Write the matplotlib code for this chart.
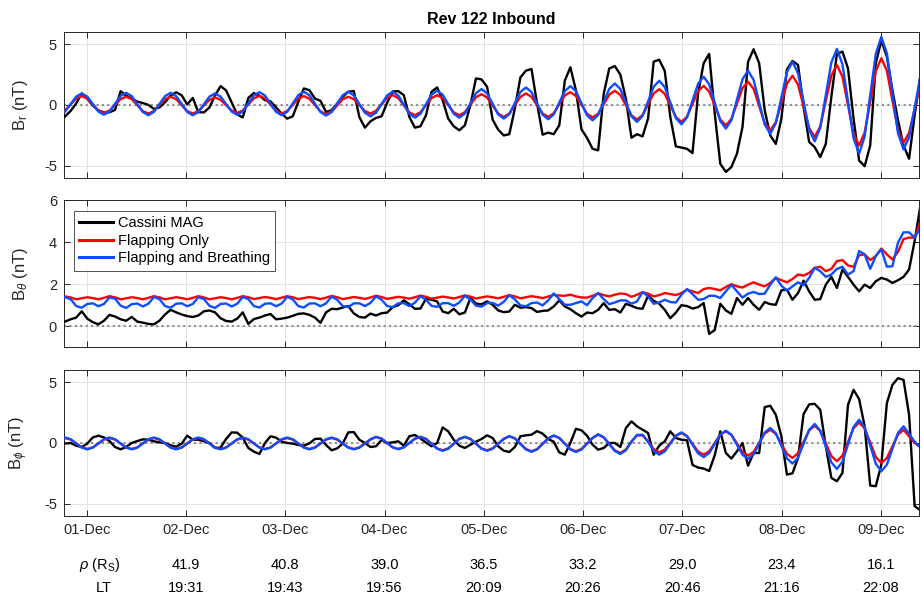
import numpy as np
import matplotlib
matplotlib.use('Agg')
import matplotlib.pyplot as plt
from matplotlib.transforms import blended_transform_factory

plt.rcParams['font.family'] = ['Liberation Sans', 'DejaVu Sans']
plt.rcParams['mathtext.fontset'] = 'custom'
plt.rcParams['mathtext.rm'] = 'Liberation Sans'
plt.rcParams['mathtext.it'] = 'Liberation Sans:italic'
plt.rcParams['mathtext.bf'] = 'Liberation Sans:bold'
plt.rcParams['axes.unicode_minus'] = False

# ---------------- data ----------------
# sample times (hours after 01-Dec 00:00), regular sampling
hours = -5.23 + 1.3425 * np.arange(155)

br_mag = [-0.94, -0.49, 0.13, 0.94, 0.52, -0.05, -0.44, -0.61, -0.60, -0.40,
          1.13, 0.77, 0.52, 0.28, 0.16, 0.01, -0.32, -0.20, 0.23, 0.77,
          1.05, 0.80, 0.04, 0.58, -0.59, -0.61, -0.20, 0.78, 1.55, 1.20,
          0.21, -0.78, -1.02, 0.58, 0.98, 0.76, 0.40, 0.30, -0.20, -0.70,
          -1.12, -0.93, 0.26, 1.36, 1.22, 0.53, 0.34, -0.57, -0.43, 0.12,
          0.67, 1.09, 1.15, -1.00,
          -1.86, -1.34, -1.06, -0.93, 0.18, 1.11, 1.14, 0.81, -0.98, -1.86,
          -1.75, -0.84, 1.09, 1.44, 0.40, -1.12, -1.75, -2.08, -1.67, 0.00,
          2.19, 2.10, 1.50, -1.20, -2.03, -2.50, -2.40, -0.30, 2.27, 2.82,
          2.96, 0.12, -2.44, -2.27, -2.40, -1.67, 2.00, 3.10, 1.20, -2.00,
          -2.70, -3.60, -3.73, 0.90, 3.00, 3.20, 2.50, 0.50, -2.69, -2.40,
          -2.58, -1.10,
          3.56, 3.72, 2.80, -1.00, -3.40, -3.50, -3.60, -3.95, 0.95, 3.43,
          4.20, -0.70, -4.83, -5.50, -5.10, -4.00, -1.80, 3.56, 4.58, 3.43,
          -0.43, -2.50, -3.20, -1.12, 2.93, 3.62, 3.29, -0.15, -3.04, -3.46,
          -4.28, -3.20, 0.67, 4.20, 4.39, 3.00, -1.12, -4.56, -5.03, -3.32,
          3.43, 5.30, 3.98, 1.22, -1.26, -3.32, -4.42, -0.84, 2.33]

br_flap = [-0.45, 0.04, 0.53, 0.73, 0.53, 0.04, -0.45, -0.65,
           -0.46, 0.02, 0.49, 0.68, 0.48, -0.01, -0.50, -0.70,
           -0.50, -0.01, 0.48, 0.68, 0.48, -0.01, -0.50, -0.70,
           -0.51, -0.04, 0.43, 0.62, 0.43, -0.02, -0.46, -0.65,
           -0.45, 0.05, 0.55, 0.75, 0.54, 0.03, -0.49, -0.70,
           -0.49, 0.02, 0.52, 0.73, 0.51, -0.01, -0.53, -0.75,
           -0.54, -0.04, 0.47, 0.68, 0.48, -0.01, -0.50, -0.70,
           -0.48, 0.06, 0.59, 0.81, 0.57, -0.02, -0.60, -0.84,
           -0.60, -0.02, 0.57, 0.81, 0.57, -0.02, -0.60, -0.84,
           -0.59, 0.03, 0.64, 0.89, 0.62, -0.05, -0.71, -0.98,
           -0.70, -0.02, 0.67, 0.95, 0.67, -0.02, -0.70, -0.98,
           -0.68, 0.06, 0.79, 1.05, 0.75, 0.03, -0.73, -1.02,
           -0.72, 0.07, 0.85, 1.17, 0.82, -0.02, -0.85, -1.20,
           -0.83, 0.06, 0.94, 1.30, 0.91, -0.04, -0.99, -1.39,
           -0.96, 0.10, 1.15, 1.57, 1.10, -0.05, -1.19, -1.67,
           -1.15, 0.12, 1.39, 1.91, 1.33, -0.09, -1.50, -2.08,
           -1.42, 0.17, 1.75, 2.41, 1.67, -0.11, -1.89, -2.63,
           -1.76, 0.33, 2.42, 3.29, 2.32, -0.02, -2.35, -3.32,
           -2.27, 0.26, 2.79, 3.84, 2.82, 0.37, -2.08, -3.10,
           -2.29, -0.35, 1.60]

br_flap_breath = [-0.54, 0.08, 0.69, 0.95, 0.69, 0.08, -0.54, -0.80,
                  -0.54, 0.10, 0.74, 1.00, 0.73, 0.08, -0.57, -0.84,
                  -0.57, 0.08, 0.73, 1.00, 0.73, 0.08, -0.57, -0.84,
                  -0.58, 0.06, 0.69, 0.95, 0.69, 0.08, -0.54, -0.80,
                  -0.53, 0.13, 0.79, 1.06, 0.78, 0.11, -0.56, -0.84,
                  -0.56, 0.13, 0.81, 1.09, 0.80, 0.11, -0.58, -0.87,
                  -0.58, 0.11, 0.80, 1.09, 0.79, 0.08, -0.63, -0.93,
                  -0.63, 0.08, 0.79, 1.09, 0.78, 0.03, -0.73, -1.04,
                  -0.72, 0.07, 0.85, 1.17, 0.85, 0.07, -0.72, -1.04,
                  -0.70, 0.14, 0.97, 1.31, 0.95, 0.10, -0.76, -1.12,
                  -0.75, 0.16, 1.07, 1.44, 1.06, 0.14, -0.79, -1.17,
                  -0.77, 0.19, 1.15, 1.55, 1.14, 0.15, -0.85, -1.26,
                  -0.82, 0.26, 1.33, 1.77, 1.31, 0.19, -0.93, -1.39,
                  -0.90, 0.30, 1.50, 1.99, 1.47, 0.20, -1.07, -1.59,
                  -1.02, 0.37, 1.75, 2.32, 1.70, 0.19, -1.32, -1.94,
                  -1.24, 0.44, 2.12, 2.82, 2.06, 0.23, -1.60, -2.36,
                  -1.49, 0.60, 2.69, 3.56, 2.60, 0.29, -2.03, -2.99,
                  -1.88, 0.81, 3.50, 4.61, 3.35, 0.31, -2.74, -4.00,
                  -2.59, 0.80, 4.19, 5.60, 4.25, 0.98, -2.30, -3.65,
                  -2.65, -0.23, 2.20]

bth_mag = [0.21, 0.32, 0.40, 0.70, 0.35, 0.18, 0.08, 0.25, 0.53, 0.45,
           0.32, 0.25, 0.43, 0.21, 0.16, 0.10, 0.08, 0.25, 0.55, 0.77,
           0.65, 0.55, 0.47, 0.43, 0.50, 0.70, 0.74, 0.65, 0.37, 0.24,
           0.21, 0.35, 0.65, 0.10, 0.33, 0.40,
           0.50, 0.57, 0.32, 0.35, 0.40, 0.48, 0.58, 0.60, 0.53, 0.40,
           0.15, 0.65, 0.82, 0.80, 0.88, 0.95, 0.60, 0.43,
           0.40, 0.59, 0.50, 0.61, 0.64, 0.90, 0.99, 1.22, 1.04, 0.82,
           0.83, 1.30, 1.25, 1.17, 0.69, 0.61, 0.82, 0.56, 0.64, 1.33,
           1.07, 1.03, 1.17, 1.01, 0.74, 0.66, 0.69, 1.01, 0.87, 0.90,
           0.85, 0.67, 0.72, 0.74, 0.93, 1.22,
           0.93, 0.80, 0.61, 0.45, 0.64, 0.61, 0.77, 1.09, 0.77, 0.80,
           0.64, 1.06, 0.96, 0.85,
           0.82, 1.45, 1.20, 1.06, 0.77, 0.37, 0.64, 0.99, 0.95, 0.83,
           0.90, 1.09, -0.38, -0.19, 1.06, 0.74, 0.58, 1.33, 1.01, 1.33,
           1.01, 0.77, 1.14, 1.04, 1.01, 1.70, 1.73, 1.25, 1.57, 2.16,
           1.65, 1.25, 1.28, 1.97, 2.34, 1.81, 2.69, 2.34, 1.97, 1.65,
           1.97, 1.81, 2.13, 2.29, 2.21, 2.05, 2.18, 2.34, 2.69, 4.05,
           5.66]

bth_flap = [1.41, 1.36, 1.27, 1.32, 1.37, 1.33, 1.27, 1.34,
            1.42, 1.36, 1.27, 1.32, 1.37, 1.33, 1.27, 1.34,
            1.42, 1.36, 1.27, 1.32, 1.37, 1.33, 1.27, 1.34,
            1.42, 1.36, 1.27, 1.32, 1.37, 1.33, 1.27, 1.34,
            1.42, 1.37, 1.28, 1.33, 1.38, 1.34, 1.28, 1.35,
            1.42, 1.37, 1.28, 1.33, 1.38, 1.34, 1.28, 1.35,
            1.43, 1.37, 1.28, 1.33, 1.38, 1.34, 1.29, 1.36,
            1.44, 1.38, 1.29, 1.34, 1.39, 1.35, 1.30, 1.37,
            1.45, 1.39, 1.30, 1.35, 1.40, 1.36, 1.31, 1.38,
            1.46, 1.40, 1.31, 1.36, 1.41, 1.37, 1.32, 1.39,
            1.47, 1.41, 1.32, 1.37, 1.42, 1.38, 1.33, 1.40,
            1.48, 1.45,
            1.44, 1.49, 1.41, 1.36, 1.35, 1.44, 1.55, 1.47, 1.41, 1.49,
            1.55, 1.52, 1.39, 1.49, 1.61,
            1.54, 1.41, 1.47, 1.57, 1.52, 1.47, 1.57, 1.73, 1.65, 1.57,
            1.76, 1.81, 1.76, 1.70, 1.86, 1.99, 1.89, 1.83, 1.97, 2.08,
            1.97, 1.89, 2.05, 2.29, 2.18, 2.08, 2.24, 2.45, 2.40, 2.53,
            2.77, 2.82, 2.61, 2.72, 3.09, 3.14, 2.88, 2.82, 3.37, 3.41,
            3.14, 3.33, 3.69, 3.41, 3.17, 3.53, 4.14, 4.21, 4.21, 4.95]

bth_flap_breath = [1.37, 1.28, 0.95, 0.87, 1.05, 1.08, 0.94, 1.05,
                   1.36, 1.30, 0.97, 0.86, 1.04, 1.07, 0.93, 1.06,
                   1.38, 1.28, 0.95, 0.87, 1.06, 1.08, 0.94, 1.05,
                   1.37, 1.29, 0.96, 0.86, 1.05, 1.07, 0.93, 1.06,
                   1.38, 1.28, 0.95, 0.88, 1.06, 1.08, 0.94, 1.07,
                   1.39, 1.27, 0.95, 0.88, 1.07, 1.08, 0.94, 1.08,
                   1.40, 1.25, 0.95, 0.90, 1.08, 1.08, 0.95, 1.10,
                   1.41, 1.25, 0.95, 0.90, 1.08, 1.09, 0.95, 1.11,
                   1.42, 1.25, 0.96, 0.91, 1.09, 1.09, 0.96, 1.12,
                   1.44, 1.26, 0.97, 0.92, 1.09, 1.10, 0.97, 1.15,
                   1.47, 1.27, 0.98, 0.94, 1.09, 1.12, 0.98, 1.22,
                   1.55, 1.28, 1.01, 1.01, 1.09, 1.17, 0.99, 1.33,
                   1.57, 1.28, 1.04, 1.12, 1.22, 1.22, 1.06, 1.17,
                   1.62, 1.41, 1.06, 1.12, 1.25, 1.14, 1.12, 1.49, 1.76, 1.52,
                   1.25, 1.28, 1.44, 1.44, 1.33, 1.65, 1.96, 1.65, 1.35, 1.54,
                   1.62, 1.52, 1.54, 1.97, 2.32, 1.92, 1.68, 1.89, 2.08, 1.94,
                   2.29, 2.77, 2.61, 2.34, 2.45, 2.72, 2.82, 2.45, 2.61, 3.57,
                   3.41, 2.72, 3.33, 3.65, 2.82, 2.85, 3.97, 4.46, 4.46, 4.21,
                   4.65]

bph_mag = [-0.05, 0.00, -0.22, -0.33, -0.05, 0.46, 0.60, 0.46, 0.16, -0.33,
           -0.52, -0.33, 0.00, 0.16, 0.30, 0.27, 0.14, 0.05, 0.00, -0.19,
           -0.30, -0.05, 0.60, 0.27, 0.27, 0.14, 0.00, -0.41, -0.38, 0.33,
           0.87, 0.85, 0.44, -0.41, -0.71, -0.90, 0.00, 0.55, 0.44, 0.11,
           0.00, -0.05, -0.16, -0.22, -0.03, 0.33, 0.36, -0.16, -0.60, -0.44,
           -0.05, 0.87, 0.90, 0.27,
           0.00, -0.33, -0.27, 0.25, 0.00, 0.05, 0.14, -0.22, 0.55, 0.66,
           0.38, 0.03, -0.27, 0.00, 1.28, 0.96, 0.27, -0.22, -0.41, -0.14,
           0.11, 0.33, 0.63, 0.41, -0.27, -0.63, -0.74, -0.33, 0.55, 0.63,
           0.68, 0.98, 0.77, 0.33, 0.11, -0.77, -0.96, 0.00, 1.17, 1.04,
           0.60, -0.14, -0.55, -0.41, 0.00, 0.00, -0.33, 1.23, 1.78, 1.37,
           1.10, 0.82, -0.96, -0.22, 0.14, 0.96, 0.41, 0.27, 0.22, -1.80,
           -2.02, -2.10, -2.30, -1.00, 0.96, -0.82, -1.28, -0.68, 0.00, -1.86,
           -0.82, -0.82, 2.95, 3.06, 2.32, 0.55, -2.60, -2.49, -1.23, 2.38,
           3.17, 3.22, 2.73, -0.27, -2.87, -3.14, -2.46, 3.14, 4.37, 3.61,
           1.37, -3.50, -3.55, -1.78, 3.28, 4.78, 5.33, 5.19, 2.32, -5.19,
           -5.52]

bph_flap = [0.41, 0.28, -0.04, -0.36, -0.49, -0.36, -0.04, 0.28,
            0.41, 0.28, -0.04, -0.36, -0.49, -0.36, -0.04, 0.28,
            0.41, 0.28, -0.04, -0.36, -0.49, -0.36, -0.04, 0.28,
            0.41, 0.28, -0.04, -0.36, -0.49, -0.36, -0.04, 0.28,
            0.41, 0.28, -0.04, -0.36, -0.49, -0.36, -0.04, 0.28,
            0.41, 0.28, -0.04, -0.36, -0.49, -0.36, -0.04, 0.28,
            0.41, 0.28, -0.04, -0.36, -0.49, -0.36, -0.04, 0.28,
            0.49, 0.35, 0.00, -0.35, -0.49, -0.35, 0.00, 0.35,
            0.49, 0.33, -0.06, -0.44, -0.60, -0.44, -0.06, 0.33,
            0.49, 0.33, -0.06, -0.44, -0.60, -0.44, -0.06, 0.33,
            0.55, 0.37, -0.07, -0.50, -0.68, -0.50, -0.07, 0.37,
            0.60, 0.41, -0.04, -0.49, -0.68, -0.49, -0.04, 0.41,
            0.68, 0.46, -0.07, -0.60, -0.82,
            -0.53, 0.11, 0.62, 0.63, 0.13, -0.49, -0.77,
            -0.54, 0.03, 0.59, 0.82, 0.56, -0.07, -0.70, -0.96,
            -0.68, 0.00, 0.68, 0.96, 0.67, -0.04, -0.75, -1.04,
            -0.73, 0.03, 0.78, 1.09, 0.75, -0.07, -0.89, -1.23,
            -0.84, 0.10, 1.03, 1.42, 0.99, -0.04, -1.07, -1.50,
            -1.03, 0.10, 1.22, 1.69, 1.20, 0.03, -1.15, -1.64,
            -1.24, -0.28, 0.69, 1.09, 0.55, 0.00, -0.33]

bph_flap_breath = [0.45, 0.31, -0.04, -0.38, -0.52, -0.38, -0.04, 0.31,
                   0.45, 0.31, -0.04, -0.38, -0.52, -0.38, -0.04, 0.31,
                   0.45, 0.31, -0.04, -0.38, -0.52, -0.38, -0.04, 0.31,
                   0.45, 0.31, -0.04, -0.38, -0.52, -0.38, -0.04, 0.31,
                   0.45, 0.31, -0.04, -0.38, -0.52, -0.38, -0.04, 0.31,
                   0.45, 0.31, -0.04, -0.38, -0.52, -0.38, -0.04, 0.31,
                   0.45, 0.31, -0.04, -0.38, -0.52, -0.38, -0.04, 0.31,
                   0.51, 0.36, 0.00, -0.36, -0.51, -0.36, 0.00, 0.36,
                   0.51, 0.34, -0.07, -0.47, -0.64, -0.47, -0.07, 0.34,
                   0.51, 0.34, -0.07, -0.47, -0.64, -0.47, -0.07, 0.34,
                   0.57, 0.38, -0.08, -0.53, -0.72, -0.53, -0.08, 0.38,
                   0.62, 0.42, -0.06, -0.54, -0.74, -0.54, -0.06, 0.42,
                   0.72, 0.48, -0.09, -0.66, -0.90,
                   -0.59, 0.11, 0.67, 0.67, 0.09, -0.64, -0.96,
                   -0.69, -0.05, 0.60, 0.87, 0.57, -0.14, -0.85, -1.15,
                   -0.83, -0.07, 0.69, 1.01, 0.67, -0.15, -0.97, -1.31,
                   -0.94, -0.04, 0.86, 1.23, 0.80, -0.23, -1.26, -1.69,
                   -1.21, -0.07, 1.08, 1.56, 1.02, -0.29, -1.59, -2.13,
                   -1.54, -0.11, 1.32, 1.91, 1.29, -0.21, -1.70, -2.32,
                   -1.78, -0.48, 0.83, 1.37, 0.75, 0.10, -0.33]

day_labels = ['01-Dec', '02-Dec', '03-Dec', '04-Dec', '05-Dec',
              '06-Dec', '07-Dec', '08-Dec', '09-Dec']
rho_vals = ['41.9', '40.8', '39.0', '36.5', '33.2', '29.0', '23.4', '16.1']
lt_vals = ['19:31', '19:43', '19:56', '20:09', '20:26', '20:46', '21:16', '22:08']

series_names = ['Cassini MAG', 'Flapping Only', 'Flapping and Breathing']

# ---------------- figure ----------------
W, H = 922, 596
fig = plt.figure(figsize=(W / 100, H / 100), dpi=100)

days = hours / 24.0
xlim = (-5.49 / 24.0, 201.3 / 24.0)

left = 64 / W
width = (919.3 - 64) / W
panels = [(32, 178), (200, 347), (370, 516)]
axes = []
for top, bot in panels:
    ax = fig.add_axes([left, 1 - bot / H, width, (bot - top) / H])
    axes.append(ax)

colors = ['black', '#ff0000', '#0d4dff']
lw = 1.7
fs = 10.5

data = [
    (br_mag, br_flap, br_flap_breath, (-6, 6), [-5, 0, 5], r'B$_\mathregular{r}$ (nT)'),
    (bth_mag, bth_flap, bth_flap_breath, (-1, 6), [0, 2, 4, 6], r'B$_\theta$ (nT)'),
    (bph_mag, bph_flap, bph_flap_breath, (-6, 6), [-5, 0, 5], r'B$_\phi$ (nT)'),
]

for i, (ax, (mag, flap, fb, ylim, yt, ylab)) in enumerate(zip(axes, data)):
    ax.axhline(0, color='#8c8c8c', lw=1.5, ls=(0, (1, 1.6)), zorder=1)
    l1, = ax.plot(days, mag, color=colors[0], lw=lw, zorder=3)
    l2, = ax.plot(days, flap, color=colors[1], lw=lw, zorder=4)
    l3, = ax.plot(days, fb, color=colors[2], lw=lw, zorder=5)
    ax.set_xlim(*xlim)
    ax.set_ylim(*ylim)
    ax.set_yticks(yt)
    ax.set_yticklabels([str(v) for v in yt])
    ax.set_xticks(range(len(day_labels)))
    if i == 2:
        ax.set_xticklabels(day_labels)
    else:
        ax.set_xticklabels([])
    ax.grid(True, color='#e3e3e3', lw=0.7, zorder=0)
    ax.set_axisbelow(True)
    ax.tick_params(direction='in', top=True, right=True, length=4.5,
                   width=0.7, color='#262626', labelsize=fs, labelcolor='#262626', pad=5)
    for s in ax.spines.values():
        s.set_color('#262626')
        s.set_linewidth(0.7)
    ax.set_ylabel(ylab, fontsize=12, color='#262626')
    ax.yaxis.set_label_coords(-0.040, 0.5)
    if i == 1:
        leg = ax.legend([l1, l2, l3], series_names, loc='upper left',
                        bbox_to_anchor=(0.0117, 0.925), borderaxespad=0,
                        fontsize=fs, frameon=True, fancybox=False,
                        handlelength=2.3, handletextpad=0.35, borderpad=0.35,
                        labelspacing=0.25)
        leg.get_frame().set_edgecolor('#262626')
        leg.get_frame().set_linewidth(0.7)
        for h in leg.get_lines():
            h.set_linewidth(2.2)

fig.text(491.6 / W, 1 - 19 / H, 'Rev 122 Inbound', ha='center', va='center',
         fontsize=11.5, fontweight='bold', color='black')

ax3 = axes[2]
trans = blended_transform_factory(ax3.transData, fig.transFigure)
y_rho = 1 - 565 / H
y_lt = 1 - 588 / H
for j, (r, lt) in enumerate(zip(rho_vals, lt_vals)):
    ax3.text(j + 1, y_rho, r, transform=trans, ha='center', va='center',
             fontsize=fs, color='black', clip_on=False)
    ax3.text(j + 1, y_lt, lt, transform=trans, ha='center', va='center',
             fontsize=fs, color='black', clip_on=False)
fig.text(100 / W, y_rho, r'$\rho$ (R$_\mathregular{S}$)', ha='center', va='center',
         fontsize=fs, color='black')
fig.text(104 / W, y_lt, 'LT', ha='center', va='center', fontsize=fs, color='black')

fig.savefig('out.png', dpi=100)
